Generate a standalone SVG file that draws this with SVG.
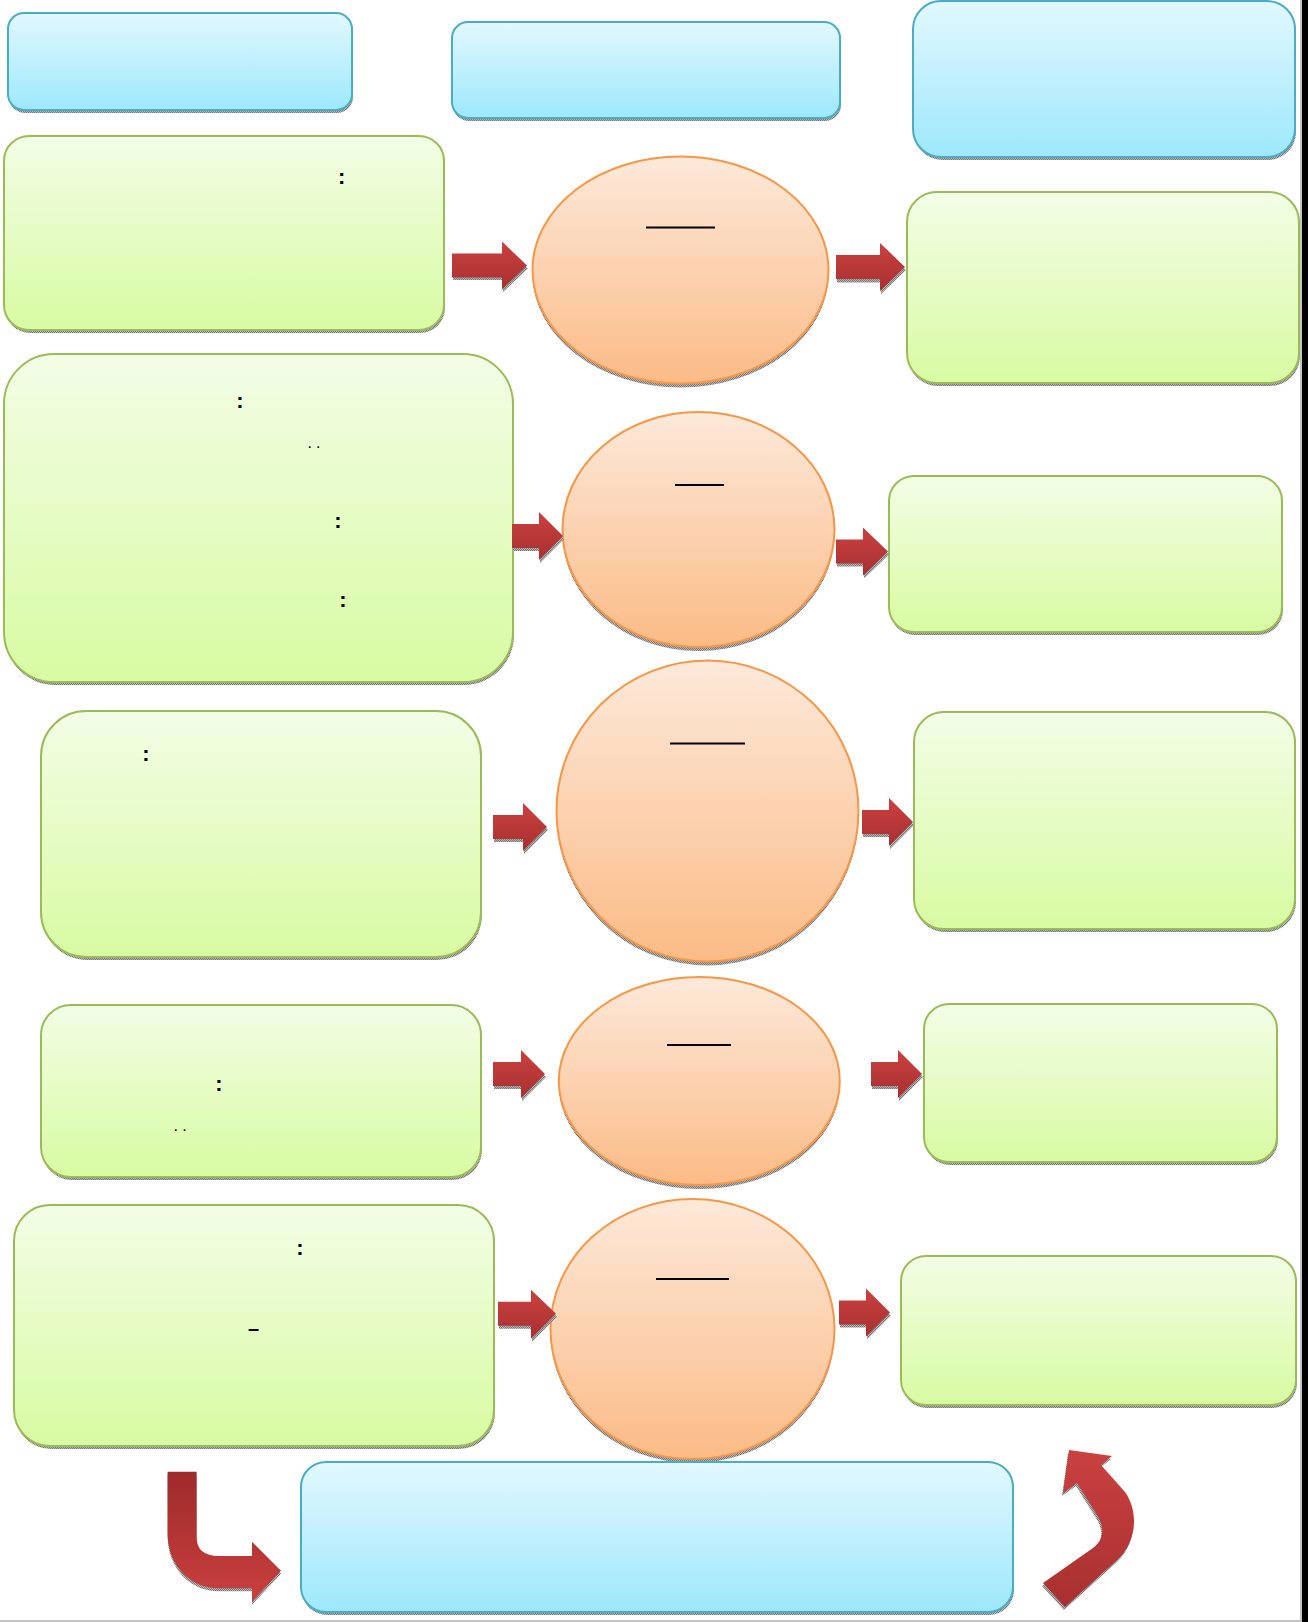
<svg xmlns="http://www.w3.org/2000/svg" width="1308" height="1622" viewBox="0 0 1308 1622">
  <defs>
    <linearGradient id="gBlue" x1="0" y1="0" x2="0" y2="1">
      <stop offset="0" stop-color="#e2f8fe"/>
      <stop offset="1" stop-color="#9de8fc"/>
    </linearGradient>
    <linearGradient id="gGreen" x1="0" y1="0" x2="0" y2="1">
      <stop offset="0" stop-color="#f3fde6"/>
      <stop offset="1" stop-color="#d8fba2"/>
    </linearGradient>
    <linearGradient id="gOrange" x1="0" y1="0" x2="0" y2="1">
      <stop offset="0" stop-color="#fde9da"/>
      <stop offset="1" stop-color="#fbbb86"/>
    </linearGradient>
    <linearGradient id="gRed" x1="0" y1="0" x2="0" y2="1">
      <stop offset="0" stop-color="#ca4140"/>
      <stop offset="1" stop-color="#a83030"/>
    </linearGradient>
    <linearGradient id="gRedUp" x1="0" y1="0" x2="0" y2="1">
      <stop offset="0" stop-color="#9e2a2b"/>
      <stop offset="1" stop-color="#c9403e"/>
    </linearGradient>
    <pattern id="dither" width="2" height="2" patternUnits="userSpaceOnUse">
      <rect width="2" height="2" fill="#b8b8b8"/>
      <rect width="1" height="1" fill="#767676"/>
      <rect x="1" y="1" width="1" height="1" fill="#767676"/>
    </pattern>
  </defs>
  <style>
    .blue { fill: url(#gBlue); stroke: #4bacc6; stroke-width: 2; }
    .green { fill: url(#gGreen); stroke: #9bbb59; stroke-width: 2; }
    .orange { fill: url(#gOrange); stroke: #f79646; stroke-width: 2; }
    .shadow { fill: url(#dither); }
    .arrow { fill: url(#gRed); }
    .txt { font-family: "Liberation Sans", Arial, sans-serif; fill: #000; }
    .colon { font-size: 22px; font-weight: bold; }
    .ul { stroke: #000; stroke-width: 2; }
  </style>

  <rect x="0" y="0" width="1308" height="1622" fill="#ffffff"/>

  <g id="nodes">
    <g id="blue-top-1">
      <rect class="shadow" x="9" y="16" width="344" height="97" rx="16"/>
      <rect class="blue" x="8" y="13" width="344" height="97" rx="16"/>
    </g>
    <g id="blue-top-2">
      <rect class="shadow" x="453" y="25" width="388" height="96" rx="16"/>
      <rect class="blue" x="452" y="22" width="388" height="96" rx="16"/>
    </g>
    <g id="blue-top-3">
      <rect class="shadow" x="914" y="4" width="382" height="156" rx="28"/>
      <rect class="blue" x="913" y="1" width="382" height="156" rx="28"/>
    </g>

    <g id="left-1">
      <rect class="shadow" x="5" y="139" width="440" height="194" rx="25"/>
      <rect class="green" x="4" y="136" width="440" height="194" rx="25"/>
      <text class="txt colon" x="341.7" y="184" text-anchor="middle">:</text>
    </g>
    <g id="circle-1">
      <ellipse class="shadow" cx="680.5" cy="274" rx="148" ry="113.5"/>
      <ellipse class="orange" cx="680.5" cy="270" rx="148" ry="113.5"/>
      <line class="ul" x1="646" y1="227.5" x2="715" y2="227.5"/>
    </g>
    <g id="right-1">
      <rect class="shadow" x="908" y="195" width="392" height="191" rx="30"/>
      <rect class="green" x="907" y="192" width="392" height="191" rx="30"/>
    </g>

    <g id="left-2">
      <rect class="shadow" x="5" y="357" width="509" height="328" rx="50"/>
      <rect class="green" x="4" y="354" width="509" height="328" rx="50"/>
      <text class="txt colon" x="240" y="408" text-anchor="middle">:</text>
      <text class="txt" x="307.5" y="447.5" font-size="16" letter-spacing="4">..</text>
      <text class="txt colon" x="338" y="528" text-anchor="middle">:</text>
      <text class="txt colon" x="343" y="607" text-anchor="middle">:</text>
    </g>
    <g id="circle-2">
      <ellipse class="shadow" cx="698.5" cy="533.5" rx="136" ry="117.5"/>
      <ellipse class="orange" cx="698.5" cy="529.5" rx="136" ry="117.5"/>
      <line class="ul" x1="675" y1="485" x2="724" y2="485"/>
    </g>
    <g id="right-2">
      <rect class="shadow" x="890" y="479" width="393" height="156" rx="25"/>
      <rect class="green" x="889" y="476" width="393" height="156" rx="25"/>
    </g>

    <g id="left-3">
      <rect class="shadow" x="42" y="714" width="440" height="246" rx="45"/>
      <rect class="green" x="41" y="711" width="440" height="246" rx="45"/>
      <text class="txt colon" x="146" y="760.5" text-anchor="middle">:</text>
    </g>
    <g id="circle-3">
      <ellipse class="shadow" cx="707.5" cy="815" rx="151" ry="150.5"/>
      <ellipse class="orange" cx="707.5" cy="811" rx="151" ry="150.5"/>
      <line class="ul" x1="670" y1="743.5" x2="745" y2="743.5"/>
    </g>
    <g id="right-3">
      <rect class="shadow" x="915" y="715" width="381" height="217" rx="30"/>
      <rect class="green" x="914" y="712" width="381" height="217" rx="30"/>
    </g>

    <g id="left-4">
      <rect class="shadow" x="42" y="1008" width="440" height="172" rx="30"/>
      <rect class="green" x="41" y="1005" width="440" height="172" rx="30"/>
      <text class="txt colon" x="219" y="1091" text-anchor="middle">:</text>
      <text class="txt" x="173.4" y="1131" font-size="16" letter-spacing="4.3">..</text>
    </g>
    <g id="circle-4">
      <ellipse class="shadow" cx="699.3" cy="1085" rx="140.5" ry="104"/>
      <ellipse class="orange" cx="699.3" cy="1081" rx="140.5" ry="104"/>
      <line class="ul" x1="667" y1="1045" x2="731" y2="1045"/>
    </g>
    <g id="right-4">
      <rect class="shadow" x="925" y="1007" width="353" height="158" rx="25"/>
      <rect class="green" x="924" y="1004" width="353" height="158" rx="25"/>
    </g>

    <g id="left-5">
      <rect class="shadow" x="15" y="1208" width="480" height="241" rx="36"/>
      <rect class="green" x="14" y="1205" width="480" height="241" rx="36"/>
      <text class="txt colon" x="300" y="1255" text-anchor="middle">:</text>
      <text class="txt" x="248" y="1334.5" font-size="20" font-weight="bold">–</text>
    </g>
    <g id="circle-5">
      <ellipse class="shadow" cx="692.5" cy="1333" rx="142" ry="130"/>
      <ellipse class="orange" cx="692.5" cy="1329" rx="142" ry="130"/>
      <line class="ul" x1="656" y1="1279" x2="729" y2="1279"/>
    </g>
    <g id="right-5">
      <rect class="shadow" x="902" y="1259" width="395" height="149" rx="25"/>
      <rect class="green" x="901" y="1256" width="395" height="149" rx="25"/>
    </g>

    <g id="blue-bottom">
      <rect class="shadow" x="302" y="1465" width="712" height="150" rx="25"/>
      <rect class="blue" x="301" y="1462" width="712" height="150" rx="25"/>
    </g>
  </g>

  <g id="connectors">
    <g id="a1">
      <polygon class="shadow" points="453,257 503,257 503,245 528,268.5 503,292 503,280 453,280"/>
      <polygon class="arrow" points="452,253.5 502,253.5 502,241.5 527,265.5 502,289.5 502,277.5 452,277.5"/>
    </g>
    <g id="a2">
      <polygon class="shadow" points="837,258.5 881,258.5 881,246 906,270 881,294 881,282.5 837,282.5"/>
      <polygon class="arrow" points="836,255 880,255 880,243 905,267 880,291 880,279 836,279"/>
    </g>
    <g id="a3">
      <polygon class="shadow" points="513,527 540,527 540,515 564,539 540,563 540,551 513,551"/>
      <polygon class="arrow" points="512,524 539,524 539,512 563,536 539,560 539,548 512,548"/>
    </g>
    <g id="a4">
      <polygon class="shadow" points="837,542.5 864,542.5 864,530.5 889,554.5 864,578.5 864,566.5 837,566.5"/>
      <polygon class="arrow" points="836,539.5 863,539.5 863,527.5 888,551.5 863,575.5 863,563.5 836,563.5"/>
    </g>
    <g id="a5">
      <polygon class="shadow" points="494,818 524,818 524,806 548,830 524,854 524,842 494,842"/>
      <polygon class="arrow" points="493,815 523,815 523,803 547,827 523,851 523,839 493,839"/>
    </g>
    <g id="a6">
      <polygon class="shadow" points="863,813 890,813 890,801 914,825 890,849 890,837 863,837"/>
      <polygon class="arrow" points="862,810 889,810 889,798 913,822 889,846 889,834 862,834"/>
    </g>
    <g id="a7">
      <polygon class="shadow" points="494,1065 522,1065 522,1053 546,1077 522,1101 522,1089 494,1089"/>
      <polygon class="arrow" points="493,1062 521,1062 521,1050 545,1074 521,1098 521,1086 493,1086"/>
    </g>
    <g id="a8">
      <polygon class="shadow" points="872,1065 899,1065 899,1053 923,1077 899,1101 899,1089 872,1089"/>
      <polygon class="arrow" points="871,1062 898,1062 898,1050 922,1074 898,1098 898,1086 871,1086"/>
    </g>
    <g id="a9">
      <polygon class="shadow" points="499,1304.7 532,1304.7 532,1292.7 557,1316.7 532,1341.7 532,1328.7 499,1328.7"/>
      <polygon class="arrow" points="498,1301.7 531,1301.7 531,1289.7 556,1313.7 531,1338.7 531,1325.7 498,1325.7"/>
    </g>
    <g id="a10">
      <polygon class="shadow" points="840,1303.5 867,1303.5 867,1291.5 891,1315.5 867,1339.5 867,1327.5 840,1327.5"/>
      <polygon class="arrow" points="839,1300.5 866,1300.5 866,1288.5 890,1312.5 866,1336.5 866,1324.5 839,1324.5"/>
    </g>
    <g id="a-bent-left">
      <path class="shadow" transform="translate(0,3)" d="M167.6,1471.7 H196.6 V1537 Q196.6,1556 219,1556 H252 V1541.7 L281,1570.7 L252,1601.7 V1588.3 H219 C190,1588.3 167.6,1565 167.6,1533 Z"/>
      <path fill="url(#gRedUp)" d="M167.6,1471.7 H196.6 V1537 Q196.6,1556 219,1556 H252 V1541.7 L281,1570.7 L252,1601.7 V1588.3 H219 C190,1588.3 167.6,1565 167.6,1533 Z"/>
    </g>
    <g id="a-curved-right">
      <path class="shadow" transform="translate(-1,3)" d="M1043,1583 L1093,1548 C1104,1540 1105,1527 1097,1515 L1077,1483 L1063,1493 L1069,1450 L1112,1456 L1101,1465 L1125,1492 C1138,1510 1138,1540 1118,1559 L1065,1607 Z"/>
      <path fill="url(#gRed)" d="M1043,1583 L1093,1548 C1104,1540 1105,1527 1097,1515 L1077,1483 L1063,1493 L1069,1450 L1112,1456 L1101,1465 L1125,1492 C1138,1510 1138,1540 1118,1559 L1065,1607 Z"/>
    </g>
  </g>

  <g id="frame">
    <rect x="0" y="1620" width="1302" height="2" fill="#c4c4c4"/>
    <rect x="1300" y="0" width="2" height="1622" fill="#c4c4c4"/>
    <rect x="1302" y="0" width="6" height="1622" fill="#000000"/>
  </g>
</svg>
